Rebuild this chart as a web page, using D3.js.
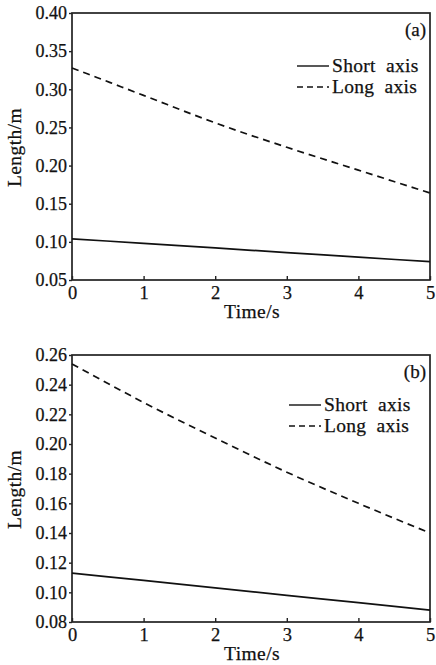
<!DOCTYPE html>
<html>
<head>
<meta charset="utf-8">
<script src="https://cdnjs.cloudflare.com/ajax/libs/d3/7.8.5/d3.min.js"></script>
<style>
  body { margin: 0; background: #fff; }
</style>
</head>
<body>
<svg width="436" height="665"></svg>
<script>
// values
var time = [0, 1, 2, 3, 4, 5];
var shortA = [0.104, 0.098, 0.092, 0.086, 0.080, 0.074];
var longA = [0.328, 0.292, 0.256, 0.224, 0.194, 0.164];
var shortB = [0.113, 0.108, 0.103, 0.098, 0.093, 0.088];
var longB = [0.254, 0.228, 0.204, 0.181, 0.160, 0.140];
var yTicksA = [0.05, 0.10, 0.15, 0.20, 0.25, 0.30, 0.35, 0.40];
var yTicksB = [0.08, 0.10, 0.12, 0.14, 0.16, 0.18, 0.20, 0.22, 0.24, 0.26];
var seriesNames = ["Short axis", "Long axis"];

var FONT = "'Liberation Serif', 'Times New Roman', serif";
var svg = d3.select("svg");
var left = 72, right = 430;

function txt(sel, size) {
  return sel.style("font-family", FONT).style("font-size", size + "px")
    .style("fill", "#111").style("stroke", "#111").style("stroke-width", "0.25px");
}

function panel(top, bottom, yTicks, shortVals, longVals, tag) {
  var g = svg.append("g");
  var x = d3.scaleLinear().domain([0, 5]).range([left, right]);
  var y = d3.scaleLinear().domain([yTicks[0], yTicks[yTicks.length - 1]]).range([bottom, top]);

  // frame
  g.append("rect")
    .attr("x", left).attr("y", top)
    .attr("width", right - left).attr("height", bottom - top)
    .attr("fill", "none").attr("stroke", "#222").attr("stroke-width", 1.7);

  // x axis: ticks pointing inward
  var xa = g.append("g").attr("transform", "translate(0," + bottom + ")")
    .call(d3.axisBottom(x).tickValues(time).tickSizeInner(-4).tickSizeOuter(0).tickPadding(6)
      .tickFormat(d3.format("d")));
  xa.select(".domain").remove();
  xa.selectAll("line").attr("stroke", "#222").attr("stroke-width", 1.4);
  txt(xa.selectAll("text"), 18.5).attr("dy", "0.71em");

  var ya = g.append("g").attr("transform", "translate(" + left + ",0)")
    .call(d3.axisLeft(y).tickValues(yTicks).tickSizeInner(3).tickSizeOuter(0).tickPadding(2)
      .tickFormat(d3.format(".2f")));
  ya.select(".domain").remove();
  ya.selectAll("line").attr("stroke", "#222").attr("stroke-width", 1.4);
  txt(ya.selectAll("text"), 18);

  txt(g.append("text"), 19.5)
    .attr("x", (left + right) / 2 + 1).attr("y", bottom + 38)
    .attr("text-anchor", "middle").style("letter-spacing", "0.4px")
    .text("Time/s");

  txt(g.append("text"), 19.5)
    .attr("transform", "translate(21," + ((top + bottom) / 2 + 1) + ") rotate(-90)")
    .attr("text-anchor", "middle").style("letter-spacing", "0.4px")
    .text("Length/m");

  var line = d3.line().x(function(d, i) { return x(time[i]); }).y(function(d) { return y(d); })
    .curve(d3.curveMonotoneX);

  g.append("path").datum(shortVals)
    .attr("d", line).attr("fill", "none").attr("stroke", "#111").attr("stroke-width", 1.7);
  g.append("path").datum(longVals)
    .attr("d", line).attr("fill", "none").attr("stroke", "#111").attr("stroke-width", 1.7)
    .attr("stroke-dasharray", "7,5");

  txt(g.append("text"), 19)
    .attr("x", right - 4).attr("y", top + 23)
    .attr("text-anchor", "end")
    .text(tag);

  return g;
}

var ga = panel(13, 280, yTicksA, shortA, longA, "(a)");
var gb = panel(355, 622, yTicksB, shortB, longB, "(b)");

function legend(g, x0, x1, y0) {
  seriesNames.forEach(function(name, i) {
    var yy = y0 + i * 21;
    g.append("line").attr("x1", x0).attr("x2", x1).attr("y1", yy).attr("y2", yy)
      .attr("stroke", "#111").attr("stroke-width", 1.4)
      .attr("stroke-dasharray", i === 1 ? "6,4" : null);
    txt(g.append("text"), 19.5).attr("x", x1 + 3).attr("y", yy + 6)
      .style("word-spacing", "5px").style("letter-spacing", "0.3px")
      .text(name);
  });
}
legend(ga, 297, 329, 66);
legend(gb, 289, 321, 405);
</script>
</body>
</html>
